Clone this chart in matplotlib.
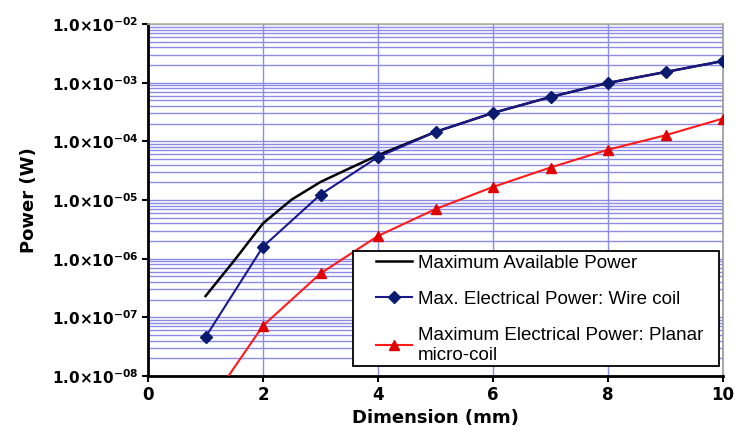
import matplotlib
matplotlib.use("Agg")
import matplotlib.pyplot as plt
from matplotlib.patches import Rectangle
from matplotlib.ticker import FixedLocator, LogLocator, NullFormatter

# values
dim = [1, 2, 3, 4, 5, 6, 7, 8, 9, 10]
wire_coil = [4.6e-8, 1.6e-6, 1.24e-5, 5.4e-5, 1.45e-4, 3.05e-4, 5.7e-4, 9.9e-4, 1.52e-3, 2.34e-3]
planar_coil = [2.7e-9, 7.2e-8, 5.6e-7, 2.44e-6, 7.0e-6, 1.67e-5, 3.58e-5, 7.2e-5, 1.27e-4, 2.45e-4]

avail_dim = [1, 1.5, 2, 2.5, 3, 3.5, 4, 5, 6, 7, 8, 9, 10]
avail_power = [2.3e-7, 9.3e-7, 4.0e-6, 1.02e-5, 2.03e-5, 3.45e-5, 5.8e-5,
               1.45e-4, 3.05e-4, 5.7e-4, 9.9e-4, 1.52e-3, 2.34e-3]

y_exps = [-8, -7, -6, -5, -4, -3, -2]
x_ticks = [0, 2, 4, 6, 8, 10]

plt.rcParams['mathtext.default'] = 'bf'
grid_blue = '#8c8ce6'

fig = plt.figure(figsize=(7.35, 4.36), dpi=100)
ax = fig.add_axes([148 / 735, 1 - 376 / 436, 575 / 735, 352 / 436])

ax.plot(avail_dim, avail_power, color='black', lw=1.8, label='Maximum Available Power', zorder=3)
ax.plot(dim, wire_coil, color='#1a1a8c', lw=1.5, marker='D', ms=6.5,
        mfc='#0a1a6e', mec='#0a1a6e', label='Max. Electrical Power: Wire coil', zorder=4)
ax.plot(dim, planar_coil, color='#ff1a1a', lw=1.5, marker='^', ms=7,
        mfc='#e00000', mec='#e00000',
        label='Maximum Electrical Power: Planar\nmicro-coil', zorder=4)

ax.set_yscale('log')
ax.set_xlim(0, 10)
ax.set_ylim(1e-8, 1e-2)

ax.yaxis.set_major_locator(FixedLocator([10.0 ** e for e in y_exps]))
ax.yaxis.set_minor_locator(LogLocator(base=10, subs=range(2, 10)))
ax.yaxis.set_minor_formatter(NullFormatter())
ax.set_yticklabels([r'$1.0{\times}10^{-%02d}$' % (-e) for e in y_exps], fontsize=11)
ax.set_xticks(x_ticks)
ax.set_xticklabels([str(t) for t in x_ticks], fontsize=12, fontweight='bold')

ax.grid(True, which='major', axis='both', color=grid_blue, lw=1.0)
ax.grid(True, which='minor', axis='y', color=grid_blue, lw=1.0)
ax.set_axisbelow(True)

ax.tick_params(axis='y', which='minor', length=0)
ax.tick_params(axis='both', which='major', length=4, width=1.5, direction='out', pad=3)

for side in ['left', 'bottom']:
    ax.spines[side].set_linewidth(2)
    ax.spines[side].set_color('black')
ax.spines['top'].set_color('#b5b59a')
ax.spines['right'].set_color('#9a9a9a')
ax.spines['top'].set_linewidth(1.2)
ax.spines['right'].set_linewidth(1.2)

ax.set_xlabel('Dimension (mm)', fontsize=13, fontweight='bold', labelpad=4)
ax.set_ylabel('Power (W)', fontsize=13, fontweight='bold', labelpad=10)

# legend box drawn separately: the original has wide side padding but tight top/bottom
ax.add_patch(Rectangle((0.3565, 0.0284), 0.6365, 0.327, transform=ax.transAxes,
                       facecolor='white', edgecolor='black', lw=1.3, zorder=5))
leg = ax.legend(loc='upper left', bbox_to_anchor=(0.3965, 0.345),
                prop={'family': 'Liberation Sans', 'size': 13.5},
                frameon=False, handlelength=1.9, labelspacing=1.02,
                borderpad=0, handletextpad=0.35, borderaxespad=0)
leg.set_zorder(6)

fig.savefig('out.png', dpi=100)
